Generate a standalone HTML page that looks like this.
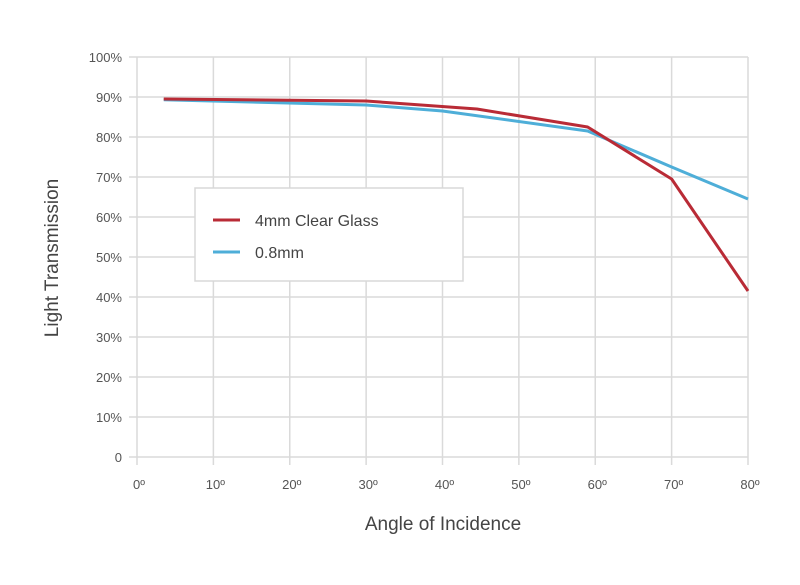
<!DOCTYPE html>
<html><head><meta charset="utf-8"><style>
body{margin:0;background:#fff;}
svg text{font-family:"Liberation Sans",sans-serif;fill:#555;}
</style></head><body>
<svg id="chart" width="800" height="580" xmlns="http://www.w3.org/2000/svg">
<g id="grid"></g>
<g id="axes"></g>
<g id="series"></g>
<text x="0" y="0" transform="translate(58,258) rotate(-90)" text-anchor="middle" font-size="19" style="fill:#444">Light Transmission</text>
<text x="443" y="530" text-anchor="middle" font-size="19" style="fill:#444">Angle of Incidence</text>
<g>
<rect x="195" y="188" width="268" height="93" fill="#fff" stroke="#d8d8d8" stroke-width="1.5"/>
<line x1="213" y1="220" x2="240" y2="220" stroke="#b92b36" stroke-width="3"/>
<text x="255" y="226" font-size="16" style="fill:#444">4mm Clear Glass</text>
<line x1="213" y1="252" x2="240" y2="252" stroke="#4eaed8" stroke-width="3"/>
<text x="255" y="258" font-size="16" style="fill:#444">0.8mm</text>
</g>
</svg>
<script>
const xTicks=[0,10,20,30,40,50,60,70,80];
const yTicks=[0,10,20,30,40,50,60,70,80,90,100];
const redX=[3.5,30,44.5,59,70,80];
const redY=[89.5,89,87,82.5,69.5,41.5];
const blueX=[3.5,30,40,59,70,80];
const blueY=[89.3,88,86.5,81.5,72.5,64.5];
const NS="http://www.w3.org/2000/svg";
const sx=v=>137+v*(748-137)/80;
const sy=v=>457-v*4;
const grid=document.getElementById('grid'),axes=document.getElementById('axes'),ser=document.getElementById('series');
function mk(t,a,p){const e=document.createElementNS(NS,t);for(const k in a)e.setAttribute(k,a[k]);p.appendChild(e);return e;}
yTicks.forEach(v=>{
 const l=mk('line',{x1:129,x2:748,y1:sy(v),y2:sy(v),stroke:'#dadada','stroke-width':1.5},grid);
 
 
 const t=mk('text',{x:122,y:sy(v)+5,'text-anchor':'end','font-size':13},axes);
 t.textContent=v===0?'0':v+'%';
 
 
});
xTicks.forEach(v=>{
 const l=mk('line',{x1:sx(v),x2:sx(v),y1:sy(100),y2:465,stroke:'#dadada','stroke-width':1.5},grid);
 
 
 const t=mk('text',{x:sx(v)+2,y:489,'text-anchor':'middle','font-size':13},axes);
 t.textContent=v+'º';
 
 
});
function line(xs,ys,c,name){
 const p=mk('polyline',{points:xs.map((x,i)=>sx(x)+','+sy(ys[i])).join(' '),fill:'none',stroke:c,'stroke-width':3,'stroke-linejoin':'round'},ser);
 
 
}
line(blueX,blueY,'#4eaed8','series-08mm');
line(redX,redY,'#b92b36','series-4mm-clear-glass');
</script>
</body></html>
